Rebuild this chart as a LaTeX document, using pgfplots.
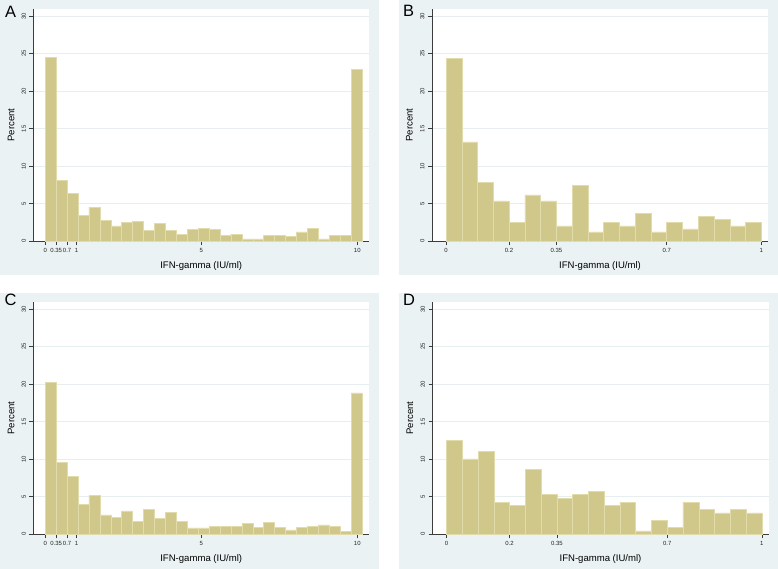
\documentclass[border=0pt]{standalone}
\usepackage{fontspec}
\setmainfont{Liberation Sans}
\usepackage{pgfplots}
\pgfplotsset{compat=1.18}
\definecolor{bgblue}{RGB}{234,242,243}
\definecolor{barfill}{RGB}{208,199,138}
\definecolor{baredge}{RGB}{226,220,172}
\definecolor{gridc}{RGB}{230,238,240}
\definecolor{axc}{RGB}{60,60,60}
\pgfplotsset{
 panel/.style={
  scale only axis, anchor=south west,
  height=232.3bp,
  ymin=0, ymax=30.95,
  ytick={0,5,10,15,20,25,30},
  axis background/.style={fill=white},
  axis x line*=bottom, axis y line*=left,
  axis line style={draw=axc, line width=0.6bp},
  tick align=outside, major tick length=4bp,
  tick style={draw=axc, line width=0.6bp},
  ymajorgrids, grid style={draw=gridc, line width=0.8bp},
  tick label style={font=\fontsize{6}{7}\selectfont, text=black!85},
  yticklabel style={rotate=90, anchor=south},
  /pgf/number format/assume math mode=true,
  xlabel={IFN-gamma (IU/ml)}, ylabel={Percent},
  label style={font=\fontsize{9.6}{11}\selectfont},
  xlabel style={at={(axis description cs:0.5,-0.1055)}, anchor=center},
  ylabel style={at={(axis description cs:-0.067,0.5)}, anchor=center},
 },
 wide/.style={panel, width=335.5bp, xmin=-0.378, xmax=10.375,
  xtick={0,0.35,0.7,1,5,10}, xticklabels={0,0.35,0.7,1,5,10}},
 narrow/.style={panel, width=336bp, xmin=-0.0444, xmax=1.0212,
  xtick={0,0.2,0.35,0.7,1}, xticklabels={0,0.2,0.35,0.7,1}},
 bars/.style={ybar interval, fill=barfill, draw=baredge, line width=0.5bp},
}
\begin{document}
\begin{tikzpicture}
\path[use as bounding box] (0,0) rectangle (778bp,569bp);
\fill[white] (0,0) rectangle (778bp,569bp);
\fill[bgblue] (0bp,294bp) rectangle (379bp,569bp);
\fill[bgblue] (399bp,294bp) rectangle (778bp,569bp);
\fill[bgblue] (0bp,0bp) rectangle (379bp,276bp);
\fill[bgblue] (399bp,0bp) rectangle (778bp,276bp);

% Panel A
\begin{axis}[wide, at={(33.5bp,327.7bp)}]
\addplot[bars] coordinates {
(0,24.5) (0.35,8.1) (0.70,6.4) (1.05,3.45) (1.40,4.55) (1.75,2.83)
(2.10,2.04) (2.45,2.52) (2.80,2.70) (3.15,1.42) (3.50,2.39) (3.85,1.42)
(4.20,0.97) (4.55,1.55) (4.90,1.73) (5.25,1.55) (5.60,0.80) (5.95,0.97)
(6.30,0.31) (6.65,0.31) (7.00,0.80) (7.35,0.80) (7.70,0.62) (8.05,1.24)
(8.40,1.73) (8.75,0.31) (9.10,0.80) (9.45,0.80) (9.80,22.9) (10.15,0)
};
\end{axis}

% Panel B
\begin{axis}[narrow, at={(432bp,327.7bp)}]
\addplot[bars] coordinates {
(0,24.4) (0.05,13.25) (0.10,7.85) (0.15,5.4) (0.20,2.5) (0.25,6.2)
(0.30,5.4) (0.35,2.05) (0.40,7.45) (0.45,1.25) (0.50,2.5) (0.55,2.05)
(0.60,3.7) (0.65,1.25) (0.70,2.5) (0.75,1.65) (0.80,3.3) (0.85,2.9)
(0.90,2.05) (0.95,2.5) (1.00,0)
};
\end{axis}

% Panel C
\begin{axis}[wide, at={(33.5bp,34.7bp)}]
\addplot[bars] coordinates {
(0,20.2) (0.35,9.57) (0.70,7.67) (1.05,4.0) (1.40,5.17) (1.75,2.6)
(2.10,2.26) (2.45,3.13) (2.80,1.74) (3.15,3.3) (3.50,2.13) (3.85,2.96)
(4.20,1.74) (4.55,0.87) (4.90,0.87) (5.25,1.09) (5.60,1.09) (5.95,1.09)
(6.30,1.43) (6.65,0.91) (7.00,1.61) (7.35,0.91) (7.70,0.6) (8.05,0.91)
(8.40,1.09) (8.75,1.26) (9.10,1.09) (9.45,0.43) (9.80,18.83) (10.15,0)
};
\end{axis}

% Panel D
\begin{axis}[narrow, at={(432.5bp,34.7bp)}]
\addplot[bars] coordinates {
(0,12.5) (0.05,10.06) (0.10,11.08) (0.15,4.3) (0.20,3.81) (0.25,8.64)
(0.30,5.27) (0.35,4.79) (0.40,5.27) (0.45,5.76) (0.50,3.81) (0.55,4.3)
(0.60,0.44) (0.65,1.9) (0.70,0.93) (0.75,4.3) (0.80,3.32) (0.85,2.84)
(0.90,3.32) (0.95,2.84) (1.00,0)
};
\end{axis}

\node[font=\fontsize{16.5}{18}\selectfont] at (10.5bp,557bp) {A};
\node[font=\fontsize{16.5}{18}\selectfont] at (408.5bp,558bp) {B};
\node[font=\fontsize{16.5}{18}\selectfont] at (10.5bp,269bp) {C};
\node[font=\fontsize{16.5}{18}\selectfont] at (409bp,269bp) {D};
\end{tikzpicture}
\end{document}
